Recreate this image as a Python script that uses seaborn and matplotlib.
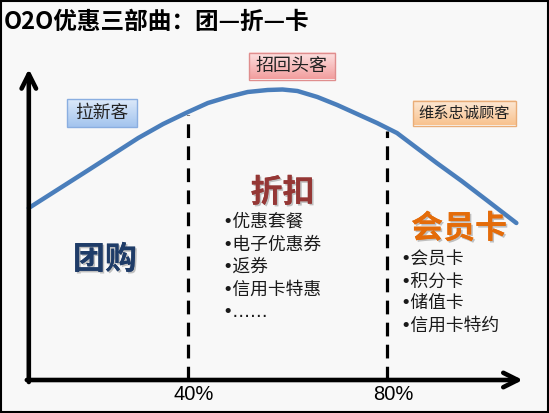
import numpy as np
import matplotlib
matplotlib.use('Agg')
import matplotlib.pyplot as plt
import seaborn as sns
from matplotlib.colors import LinearSegmentedColormap
from matplotlib.patches import Rectangle
import matplotlib.patheffects as pe

sns.set_style('white')
plt.rcParams['font.family'] = ['Noto Sans CJK SC', 'DejaVu Sans']

# 曲线数据（横轴：顾客累计百分比，纵轴：相对高度）
curve_x = [8, 14, 20, 25, 30, 35, 40, 44, 48, 52, 56, 59, 62, 66, 70, 74, 78, 82, 86, 90, 95, 100, 106]
curve_y = [172, 191, 210, 226, 242, 256, 268, 277, 283, 288, 290, 290.5, 289, 283, 275, 266, 257, 247,
           232, 217, 199, 180, 157]

ticks = [40, 80]
tick_labels = ['40%', '80%']
split_height = [265, 249]

title = 'O2O优惠三部曲：团—折—卡'
stages = ['团购', '折扣', '会员卡']
stage_colors = ['#1f3c68', '#953735', '#e46c0a']
goals = ['拉新客', '招回头客', '维系忠诚顾客']
discount_items = ['•优惠套餐', '•电子优惠券', '•返券', '•信用卡特惠', '•……']
card_items = ['•会员卡', '•积分卡', '•储值卡', '•信用卡特约']

fig = plt.figure(figsize=(5.49, 4.13), dpi=100, facecolor='#f8f8f8')
ax = fig.add_axes([0, 0, 1, 1])
ax.set_facecolor('#f8f8f8')
ax.set_xlim(2.21, 112.56)
ax.set_ylim(-33, 380)
ax.axis('off')

# 坐标轴箭头
ax.annotate('', xy=(107.3, 0), xytext=(7.6, 0),
            arrowprops=dict(arrowstyle='->', lw=3.3, color='black', mutation_scale=26,
                            shrinkA=0, shrinkB=0))
ax.annotate('', xy=(8.0, 311), xytext=(8.0, -2),
            arrowprops=dict(arrowstyle='->', lw=3.3, color='black', mutation_scale=26,
                            shrinkA=0, shrinkB=0))

# 分割虚线
for t, h in zip(ticks, split_height):
    ax.plot([t, t], [0, h], color='black', lw=2.3, linestyle=(0, (4.3, 2.6)))

for t, lab in zip(ticks, tick_labels):
    ax.text(t + 1.2, -15, lab, ha='center', va='center', fontsize=14.5,
            family=['Liberation Sans'], color='black')

sns.lineplot(x=curve_x, y=curve_y, ax=ax, color='#4a7ebb', lw=3.2)

# 渐变标签框
box_specs = [
    (22.7, 267, 14.1, 28, '#dce9f9', '#a3c4ee', '#8aaee0', 12.8),
    (60.9, 314, 17.3, 27, '#fde2e2', '#f29e9e', '#df8e8e', 13.0),
    (95.6, 267, 20.7, 25, '#fde9d6', '#f8c28e', '#e9ad78', 11.0),
]
for (cx, cy, w, h, c1, c2, ec, fs), label in zip(box_specs, goals):
    cmap = LinearSegmentedColormap.from_list('g', [c1, c2])
    grad = np.linspace(0, 1, 50).reshape(-1, 1)
    ax.imshow(grad, extent=[cx - w / 2, cx + w / 2, cy - h / 2, cy + h / 2],
              cmap=cmap, aspect='auto', origin='upper', zorder=3)
    ax.add_patch(Rectangle((cx - w / 2, cy - h / 2), w, h, fill=False,
                           edgecolor=ec, lw=1, zorder=4))
    ax.text(cx, cy, label, ha='center', va='center', fontsize=fs,
            color='#222222', zorder=5)

# 阶段大字
stage_pos = [(23.3, 120), (59.0, 187), (94.5, 151)]
shadow = [pe.withSimplePatchShadow(offset=(1.2, -1.2), shadow_rgbFace='#999999', alpha=0.6),
          pe.Normal()]
for (sx, sy), s, c in zip(stage_pos, stages, stage_colors):
    ax.text(sx, sy, s, ha='center', va='center', fontsize=23, color=c,
            fontweight='bold', path_effects=shadow)

list_font = ['DejaVu Sans', 'Noto Sans CJK SC']
for i, item in enumerate(discount_items):
    ax.text(46.9, 158 - i * 22.5, item, ha='left', va='center', fontsize=12.8,
            color='#1a1a1a', family=list_font)
for i, item in enumerate(card_items):
    ax.text(82.7, 120 - i * 22, item, ha='left', va='center', fontsize=12.8,
            color='#1a1a1a', family=list_font)

fig.text(0.007, 0.947, title, ha='left', va='center', fontsize=17,
         fontweight='bold', color='black')

fig.patches.append(Rectangle((0.001, 0.002), 0.997, 0.996, transform=fig.transFigure,
                             fill=False, edgecolor='black', lw=1.5))

fig.savefig('out.png', dpi=100, facecolor=fig.get_facecolor())
